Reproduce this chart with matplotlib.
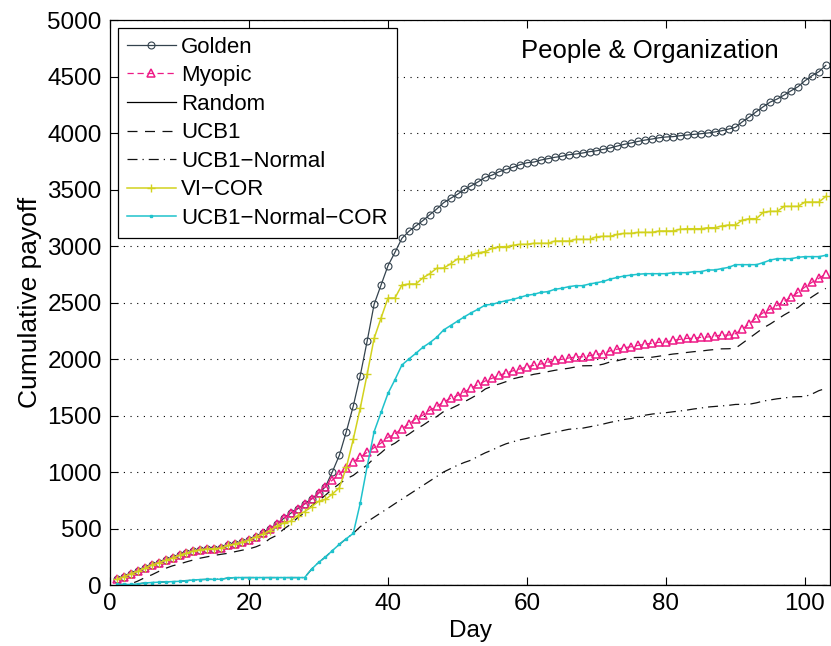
import matplotlib
matplotlib.use("Agg")
import matplotlib.pyplot as plt

plt.rcParams['font.family'] = ['Liberation Sans', 'DejaVu Sans']

days = list(range(1, 104))

golden = [50, 73, 100, 121, 148, 177, 197, 219, 239, 263,
          281, 301, 312, 319, 321, 327, 351, 363, 378, 398,
          427, 463, 500, 540, 590, 635, 675, 717, 761, 812,
          870, 1003, 1148, 1357, 1584, 1852, 2159, 2484, 2655, 2826,
          2944, 3068, 3130, 3177, 3224, 3277, 3327, 3383, 3422, 3458,
          3502, 3534, 3569, 3608, 3628, 3658, 3679, 3697, 3720, 3737,
          3743, 3761, 3773, 3785, 3794, 3808, 3814, 3823, 3835, 3843,
          3856, 3868, 3885, 3900, 3912, 3926, 3938, 3947, 3958, 3965,
          3968, 3976, 3982, 3988, 3994, 4000, 4009, 4020, 4035, 4050,
          4100, 4142, 4189, 4233, 4274, 4301, 4336, 4374, 4410, 4463,
          4507, 4543, 4599]

myopic = [50, 73, 100, 121, 148, 177, 197, 219, 239, 263,
          281, 301, 312, 319, 321, 327, 351, 363, 378, 398,
          427, 463, 500, 540, 590, 635, 675, 717, 761, 812,
          870, 929, 980, 1035, 1091, 1130, 1174, 1215, 1256, 1307,
          1338, 1383, 1425, 1472, 1502, 1547, 1580, 1620, 1652, 1677,
          1708, 1745, 1775, 1806, 1830, 1857, 1876, 1896, 1912, 1932,
          1944, 1956, 1971, 1991, 1997, 2009, 2018, 2020, 2029, 2042,
          2048, 2073, 2087, 2100, 2109, 2121, 2133, 2139, 2148, 2150,
          2165, 2174, 2183, 2183, 2192, 2195, 2204, 2212, 2212, 2224,
          2265, 2312, 2366, 2410, 2442, 2475, 2511, 2546, 2590, 2637,
          2679, 2714, 2755]

random_policy = [0] * 103

ucb1 = [0, 0, 10, 35, 65, 90, 120, 148, 170, 186,
        205, 222, 238, 250, 262, 272, 281, 295, 308, 320,
        338, 364, 410, 440, 495, 538, 596, 640, 700, 745,
        795, 850, 895, 940, 970, 1018, 1062, 1122, 1170, 1224,
        1255, 1300, 1335, 1378, 1413, 1454, 1490, 1535, 1560, 1590,
        1622, 1655, 1690, 1735, 1760, 1779, 1800, 1825, 1840, 1850,
        1865, 1875, 1888, 1900, 1910, 1918, 1930, 1940, 1941, 1942,
        1955, 1975, 1985, 2000, 2012, 2014, 2015, 2016, 2025, 2035,
        2044, 2050, 2058, 2065, 2070, 2078, 2084, 2090, 2091, 2095,
        2140, 2185, 2230, 2275, 2310, 2350, 2390, 2425, 2455, 2505,
        2550, 2590, 2625]

ucb1_normal = [5, 5, 5, 10, 18, 22, 25, 28, 30, 33,
               38, 45, 48, 50, 50, 52, 62, 66, 66, 66,
               66, 66, 66, 66, 66, 66, 66, 66, 140, 200,
               248, 305, 360, 410, 457, 516, 560, 600, 640, 679,
               720, 760, 800, 840, 880, 920, 960, 1000, 1030, 1060,
               1085, 1106, 1140, 1170, 1195, 1225, 1250, 1268, 1285, 1298,
               1315, 1325, 1340, 1352, 1365, 1378, 1384, 1388, 1400, 1412,
               1425, 1440, 1452, 1465, 1474, 1490, 1503, 1513, 1520, 1525,
               1533, 1540, 1548, 1558, 1566, 1575, 1580, 1585, 1590, 1598,
               1599, 1600, 1612, 1628, 1638, 1648, 1655, 1664, 1667, 1668,
               1690, 1720, 1740]

vi_cor = [50, 73, 100, 121, 148, 177, 197, 219, 239, 263,
          281, 301, 312, 319, 321, 327, 351, 363, 378, 398,
          427, 451, 480, 520, 551, 565, 615, 650, 692, 740,
          758, 805, 861, 1040, 1290, 1564, 1865, 2183, 2363, 2540,
          2540, 2655, 2664, 2664, 2717, 2755, 2803, 2805, 2842, 2886,
          2884, 2923, 2941, 2950, 2980, 2994, 2994, 3006, 3015, 3015,
          3024, 3024, 3024, 3044, 3044, 3044, 3059, 3059, 3059, 3082,
          3086, 3086, 3103, 3112, 3112, 3121, 3121, 3121, 3133, 3133,
          3133, 3148, 3153, 3153, 3153, 3162, 3162, 3177, 3186, 3186,
          3230, 3242, 3242, 3298, 3307, 3307, 3351, 3351, 3351, 3389,
          3389, 3389, 3439]

ucb1_normal_cor = [5, 5, 5, 10, 18, 22, 25, 28, 30, 33,
                   38, 45, 48, 50, 50, 52, 62, 66, 66, 66,
                   66, 66, 66, 66, 66, 66, 66, 66, 140, 200,
                   248, 305, 360, 410, 457, 723, 1050, 1357, 1527, 1696,
                   1817, 1947, 2000, 2050, 2103, 2144, 2192, 2257, 2296, 2335,
                   2374, 2410, 2442, 2478, 2484, 2502, 2516, 2528, 2546, 2564,
                   2573, 2590, 2596, 2617, 2626, 2640, 2649, 2649, 2664, 2675,
                   2687, 2708, 2722, 2735, 2743, 2750, 2755, 2755, 2755, 2755,
                   2764, 2764, 2764, 2773, 2773, 2788, 2788, 2800, 2811, 2835,
                   2835, 2835, 2835, 2853, 2876, 2888, 2888, 2888, 2900, 2906,
                   2906, 2906, 2918]

fig = plt.figure(figsize=(8.31, 6.46), dpi=100)
ax = fig.add_axes([0.1324, 0.0944, 0.8664, 0.8746])

lw = 0.9
ax.plot(days, golden, color='#34434e', lw=lw, marker='o', ms=5,
        mfc='none', mec='#34434e', mew=0.8, label='Golden')
ax.plot(days, myopic, color='#ee1a86', lw=lw, ls=(0, (5, 3)), marker='^', ms=5.5,
        mfc='none', mec='#ee1a86', mew=1.1, label='Myopic')
ax.plot(days, random_policy, color='black', lw=lw, label='Random')
ax.plot(days, ucb1, color='#111111', lw=lw, ls=(0, (8, 6)), label='UCB1')
ax.plot(days, ucb1_normal, color='#111111', lw=lw, ls=(0, (8, 4, 1, 4)),
        label='UCB1\u2212Normal')
ax.plot(days, vi_cor, color='#d2d21e', lw=1.1, marker='+', ms=6, mew=1.0,
        label='VI\u2212COR')
ax.plot(days, ucb1_normal_cor, color='#1fc2cc', lw=1.1, marker='s', ms=2,
        mfc='#1fc2cc', mec='#1fc2cc', label='UCB1\u2212Normal\u2212COR')

ax.set_xlim(0, 103.6)
ax.set_ylim(0, 5000)
ax.set_xticks([0, 20, 40, 60, 80, 100])
ax.set_yticks(range(0, 5001, 500))
ax.yaxis.grid(True, linestyle=(0, (1, 5)), color='black', lw=0.8)
ax.tick_params(direction='in', top=True, right=True, labelsize=17.5,
               length=6, width=0.8, pad=6)
for s in ax.spines.values():
    s.set_linewidth(0.9)

ax.set_xlabel('Day', fontsize=17.5, labelpad=3)
ax.set_ylabel('Cumulative payoff', fontsize=19, labelpad=4)

ax.text(0.75, 0.945, 'People & Organization', transform=ax.transAxes,
        ha='center', va='center', fontsize=18.5)

leg = ax.legend(loc='upper left', fontsize=16, borderaxespad=0.35,
                handlelength=2.2, handletextpad=0.25, labelspacing=0.34,
                borderpad=0.4, fancybox=False, framealpha=1, edgecolor='black',
                numpoints=1)
leg.get_frame().set_linewidth(0.9)

fig.savefig('out.png', dpi=100)
